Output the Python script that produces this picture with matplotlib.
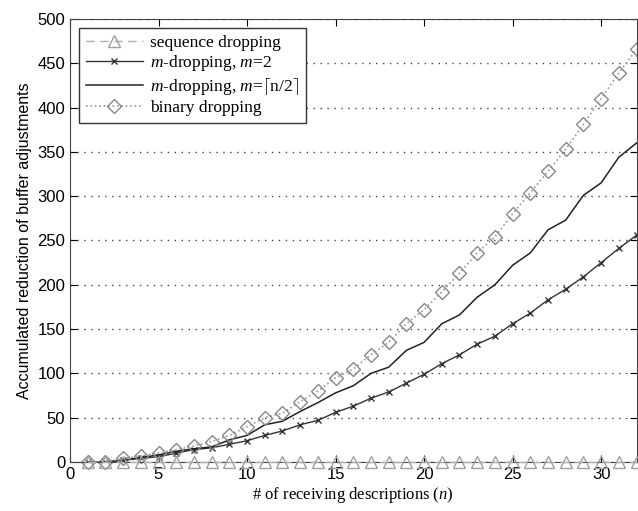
import matplotlib
matplotlib.use("Agg")
import matplotlib.pyplot as plt
import numpy as np

n = list(range(1, 33))
seq_drop = [0]*32
m2_drop = [0, 0, 2, 4, 6, 10, 14, 16, 20, 24, 30, 35, 42, 47, 56, 63, 72, 79, 89, 99,
           111, 121, 133, 142, 156, 168, 183, 195, 209, 225, 241, 256]
mhalf_drop = [0, 0, 2, 5, 8, 12, 15, 17, 25, 30, 42, 46, 57, 67, 78, 86, 100, 107, 126, 135,
              156, 166, 186, 200, 222, 236, 262, 273, 301, 315, 344, 360]
bin_drop = [0, 0, 4, 7, 10, 14, 18, 23, 30, 40, 50, 55, 68, 80, 95, 105, 121, 135, 156, 172,
            192, 213, 236, 254, 280, 304, 328, 353, 381, 410, 439, 466]

xticks = [0, 5, 10, 15, 20, 25, 30]
yticks = list(range(0, 501, 50))

serif = "Liberation Serif"
sans = "Liberation Sans"

plt.rcParams["mathtext.fontset"] = "custom"
plt.rcParams["mathtext.it"] = "Liberation Serif:italic"
plt.rcParams["mathtext.rm"] = "Liberation Serif"

fig = plt.figure(figsize=(6.38, 5.11), dpi=100)
ax = fig.add_axes([0.1097, 0.0959, 0.888, 0.867])

ax.plot(n, seq_drop, linestyle=(0, (6, 4)), color="#b0b0b0", marker="^", markersize=8,
        markerfacecolor="none", markeredgecolor="#a0a0a0", lw=1, label="sequence dropping", clip_on=False, zorder=3)
ax.plot(n, m2_drop, "-", color="#333333", marker="x", markersize=5, lw=1,
        label=r"$m$-dropping, $m$=2")
ax.plot(n, mhalf_drop, "-", color="#222222", lw=1.1,
        label=r"$m$-dropping, $m$=$\lceil$n/2$\rceil$")
ax.plot(n, bin_drop, ":", color="#999999", marker="D", markersize=7, markerfacecolor="none",
        markeredgecolor="#888888", lw=1.2, label="binary dropping", clip_on=False)

ax.set_xlim(0, 32)
ax.set_ylim(0, 500)
ax.set_xticks(xticks)
ax.set_yticks(yticks)
ax.tick_params(direction="in", top=True, right=True, length=5, labelsize=12)
for lab in ax.get_xticklabels() + ax.get_yticklabels():
    lab.set_family(sans)
ax.yaxis.grid(True, linestyle=(0, (1, 4)), color="#444444", lw=1)
ax.set_axisbelow(True)
for s in ax.spines.values():
    s.set_color("#444444")

ax.set_xlabel(r"# of receiving descriptions ($n$)", family=serif, fontsize=12, labelpad=2)
ax.set_ylabel("Accumulated reduction of buffer adjustments", family=sans, fontsize=11.5, labelpad=4)

leg = ax.legend(loc="upper left", prop={"family": serif, "size": 12.5}, fancybox=False,
                edgecolor="#333333", framealpha=1, handlelength=3.3, borderaxespad=0.5,
                labelspacing=0.15, handletextpad=0.4)
leg.get_frame().set_linewidth(1)

fig.savefig("out.png", dpi=100)
